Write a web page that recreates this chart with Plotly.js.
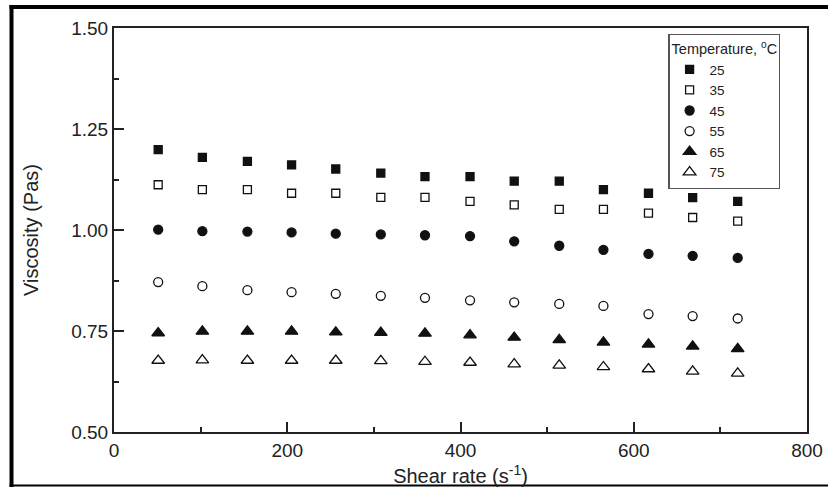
<!DOCTYPE html>
<html>
<head>
<meta charset="utf-8">
<script src="https://cdn.plot.ly/plotly-3.0.1.min.js"></script>
<style>
  html, body { margin: 0; padding: 0; background: #fff; }
  #chart { width: 828px; height: 487px; }
</style>
</head>
<body>
<div id="chart"></div>
<script>
// Shear rate (s^-1)
const shearRate = [51, 102, 154, 205, 256, 308, 359, 411, 462, 514, 565, 617, 668, 720];

// Viscosity (Pas) per temperature (°C)
const visc25 = [1.199, 1.180, 1.170, 1.161, 1.151, 1.141, 1.132, 1.132, 1.121, 1.121, 1.100, 1.091, 1.080, 1.071];
const visc35 = [1.112, 1.100, 1.100, 1.091, 1.091, 1.081, 1.081, 1.071, 1.062, 1.051, 1.051, 1.042, 1.031, 1.022];
const visc45 = [1.001, 0.997, 0.996, 0.994, 0.991, 0.989, 0.987, 0.985, 0.972, 0.961, 0.951, 0.941, 0.936, 0.931];
const visc55 = [0.871, 0.861, 0.851, 0.846, 0.842, 0.837, 0.832, 0.826, 0.821, 0.817, 0.812, 0.792, 0.787, 0.781];
const visc65 = [0.745, 0.749, 0.749, 0.749, 0.747, 0.746, 0.744, 0.740, 0.734, 0.728, 0.722, 0.717, 0.712, 0.706];
const visc75 = [0.677, 0.678, 0.677, 0.677, 0.677, 0.676, 0.674, 0.672, 0.668, 0.665, 0.661, 0.656, 0.650, 0.645];

const seriesNames = ['25', '35', '45', '55', '65', '75'];
const seriesValues = [visc25, visc35, visc45, visc55, visc65, visc75];
const seriesSymbols = ['square', 'square-open', 'circle', 'circle-open', 'triangle-up', 'triangle-up-open'];
const seriesSizes = [8, 8, 9, 9, 11, 11];

const xTickVals = [0, 200, 400, 600, 800];
const yTickVals = [0.50, 0.75, 1.00, 1.25, 1.50];

const FONT = 'Liberation Sans, Arial, Helvetica, sans-serif';
const INK = '#222222';

const traces = seriesNames.map((name, i) => ({
  type: 'scatter',
  mode: 'markers',
  name: name,
  x: shearRate,
  y: seriesValues[i],
  marker: {
    symbol: seriesSymbols[i],
    size: seriesSizes[i],
    color: '#111111',
    line: { color: '#111111', width: 1.3 }
  },
  hoverinfo: 'x+y+name'
}));

const layout = {
  width: 828,
  height: 487,
  margin: { l: 114, r: 21, t: 28, b: 55 },
  paper_bgcolor: '#ffffff',
  plot_bgcolor: '#ffffff',
  font: { family: FONT, color: INK, size: 14 },
  showlegend: true,
  legend: {
    x: 0.8, y: 0.985, xanchor: 'left', yanchor: 'top',
    bgcolor: '#ffffff',
    bordercolor: '#555555',
    borderwidth: 1.2,
    font: { family: FONT, size: 13.5, color: INK },
    title: { text: 'Temperature, <sup>o</sup>C', font: { family: FONT, size: 14.5, color: INK } },
    itemsizing: 'trace'
  },
  xaxis: {
    range: [0, 800],
    tickvals: xTickVals,
    ticktext: xTickVals.map(v => String(v)),
    ticks: 'inside',
    ticklen: 10,
    tickwidth: 1.5,
    tickcolor: INK,
    minor: { dtick: 100, tick0: 0, ticks: 'inside', ticklen: 5, tickwidth: 1.5, tickcolor: INK, showgrid: false },
    showline: true,
    linecolor: INK,
    linewidth: 2,
    mirror: true,
    showgrid: false,
    zeroline: false,
    tickfont: { family: FONT, size: 19, color: INK },
    title: { text: 'Shear rate (s<sup>-1</sup>)', font: { family: FONT, size: 20, color: INK }, standoff: 11 }
  },
  yaxis: {
    range: [0.5, 1.5],
    tickvals: yTickVals,
    ticktext: yTickVals.map(v => v.toFixed(2)),
    ticks: 'inside',
    ticklen: 10,
    tickwidth: 1.5,
    tickcolor: INK,
    minor: { dtick: 0.125, tick0: 0.5, ticks: 'inside', ticklen: 5, tickwidth: 1.5, tickcolor: INK, showgrid: false },
    showline: true,
    linecolor: INK,
    linewidth: 2,
    mirror: true,
    showgrid: false,
    zeroline: false,
    tickfont: { family: FONT, size: 19, color: INK },
    title: { text: 'Viscosity (Pas)', font: { family: FONT, size: 20, color: INK }, standoff: 27 }
  },
  shapes: [
    // outer frame: left (thick)
    { type: 'line', xref: 'paper', yref: 'paper', x0: -0.1479, x1: -0.1479, y0: 1.057, y1: -0.15, line: { color: '#000', width: 4 } },
    // top (thick)
    { type: 'line', xref: 'paper', yref: 'paper', x0: -0.1508, x1: 1.04, y0: 1.052, y1: 1.052, line: { color: '#000', width: 4 } },
    // bottom (thin)
    { type: 'line', xref: 'paper', yref: 'paper', x0: -0.1508, x1: 1.04, y0: -0.1324, y1: -0.1324, line: { color: '#000', width: 2 } }
  ]
};

Plotly.newPlot('chart', traces, layout, { displayModeBar: false, staticPlot: false });
</script>
</body>
</html>
